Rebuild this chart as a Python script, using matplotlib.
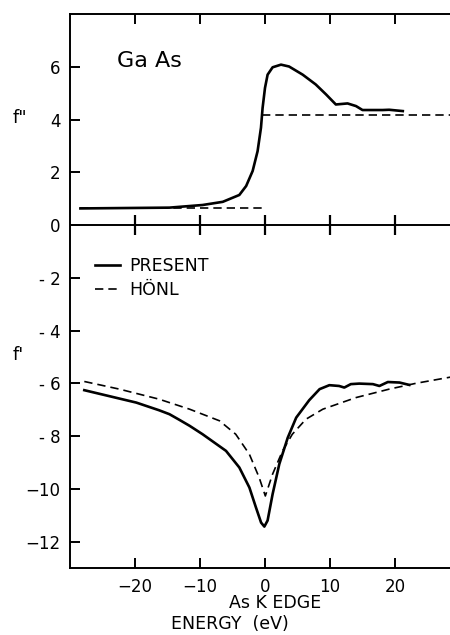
import numpy as np
import matplotlib
matplotlib.use("Agg")
import matplotlib.pyplot as plt

# f'' (upper curves)
e_fpp_present = [-28.4, -14.7, -9.6, -6.5, -3.95, -2.9, -1.9, -1.14, -0.62, -0.37, 0.0,
                 0.4, 1.17, 2.46, 3.7, 5.8, 7.8, 9.4, 10.9, 12.7, 14.0, 15.0,
                 18.1, 19.1, 21.2]
fpp_present = [0.63, 0.66, 0.76, 0.88, 1.14, 1.48, 2.05, 2.8, 3.69, 4.44, 5.2,
               5.7, 5.98, 6.08, 6.01, 5.7, 5.33, 4.95, 4.57, 4.61, 4.51, 4.36,
               4.36, 4.37, 4.32]
e_fpp_honl_lo = [-28.4, -0.5]
fpp_honl_lo = [0.64, 0.64]
e_fpp_honl_hi = [-0.4, 30.0]
fpp_honl_hi = [4.18, 4.18]

# f' (lower curves)
e_fp_present = [-27.8, -19.8, -16.3, -14.7, -13.2, -11.6, -9.6, -6.0, -3.95, -2.4, -1.4,
                -0.6, -0.1, 0.4, 1.17, 2.2, 3.5, 4.8, 6.8, 8.4, 9.9, 11.4, 12.2,
                13.2, 14.5, 16.6, 17.6, 18.9, 20.7, 22.2]
fp_present = [-6.26, -6.73, -7.02, -7.17, -7.38, -7.61, -7.93, -8.56, -9.19, -9.95, -10.7,
              -11.28, -11.43, -11.2, -10.2, -9.06, -8.06, -7.3, -6.64, -6.22, -6.07, -6.1, -6.16,
              -6.03, -6.01, -6.03, -6.1, -5.95, -5.97, -6.06]
e_fp_honl = [-27.8, -22.4, -16.3, -14.7, -11.6, -7.0, -4.5, -2.4, -0.9, 0.05,
             1.17, 2.7, 4.2, 6.3, 8.9, 14.0, 19.1, 23.2, 30.0]
fp_honl = [-5.93, -6.22, -6.6, -6.73, -6.98, -7.42, -7.93, -8.69, -9.57, -10.27,
           -9.44, -8.56, -7.93, -7.36, -6.98, -6.54, -6.22, -6.0, -5.7]

x_ticks = [-20, -10, 0, 10, 20]
y_ticks = [6, 4, 2, 0, -2, -4, -6, -8, -10, -12]
y_tick_labels = ["6", "4", "2", "0", "- 2", "- 4", "- 6", "- 8", "\u221210", "\u221212"]

plt.rcParams["font.family"] = "DejaVu Sans"

fig = plt.figure(figsize=(4.5, 6.35), dpi=100)
# axes runs past the right edge of the figure, as in the scanned original
ax = fig.add_axes([70 / 450, 1 - 568 / 635, 390 / 450, 554 / 635])
ax.set_xlim(-30, 30)
ax.set_ylim(-13, 8)

ax.plot(e_fpp_present, fpp_present, color="black", lw=1.9, solid_joinstyle="round")
ax.plot(e_fpp_honl_lo, fpp_honl_lo, color="black", lw=1.2, dashes=(5, 3))
ax.plot(e_fpp_honl_hi, fpp_honl_hi, color="black", lw=1.2, dashes=(5, 3))
ax.plot(e_fp_present, fp_present, color="black", lw=1.9, solid_joinstyle="round",
        label="PRESENT")
ax.plot(e_fp_honl, fp_honl, color="black", lw=1.2, dashes=(5, 3), label="H\u00d6NL")

# zero line with ticks crossing it
ax.axhline(0, color="black", lw=1.4)
for xt in x_ticks:
    ax.plot([xt, xt], [-0.38, 0.38], color="black", lw=1.6, solid_capstyle="butt")

for s in ax.spines.values():
    s.set_linewidth(1.4)
ax.set_xticks(x_ticks)
ax.set_yticks(y_ticks)
ax.set_yticklabels(y_tick_labels)
ax.tick_params(direction="in", length=7, width=1.4, top=True, right=True,
               labelsize=12, pad=7)

ax.text(-22.7, 6.2, "Ga As", fontsize=16, va="center", ha="left")

ax.legend(loc="center left", bbox_to_anchor=(0.064, 0.524), frameon=False,
          fontsize=12.5, handlelength=1.45, handletextpad=0.5, labelspacing=0.35,
          borderpad=0, borderaxespad=0)

fig.text(20 / 450, 1 - 118 / 635, 'f"', fontsize=13, ha="center", va="center")
fig.text(18 / 450, 1 - 355 / 635, "f'", fontsize=13, ha="center", va="center")
fig.text(275 / 450, 1 - 603 / 635, "As K EDGE", fontsize=12.5, ha="center", va="center")
fig.text(230 / 450, 1 - 624 / 635, "ENERGY  (eV)", fontsize=12.5, ha="center", va="center")

fig.savefig("out.png", dpi=100)
